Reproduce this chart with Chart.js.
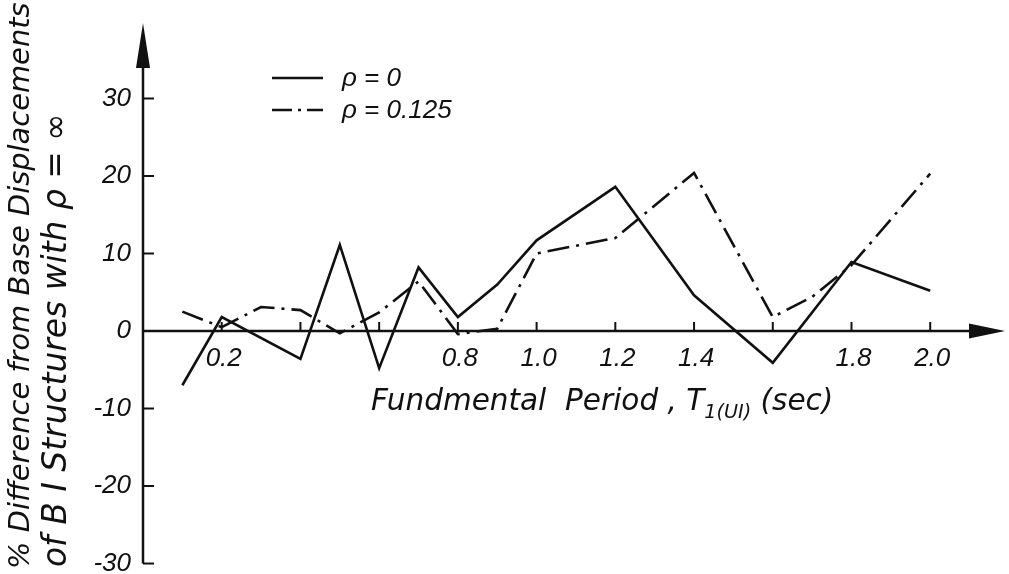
<!DOCTYPE html>
<html>
<head>
<meta charset="utf-8">
<script src="https://cdn.jsdelivr.net/npm/chart.js@4"></script>
<style>
  html, body { margin: 0; padding: 0; background: #fff; }
  #wrap { width: 1009px; height: 574px; }
</style>
</head>
<body>
<div id="wrap"><canvas id="chart" width="1009" height="574"></canvas></div>
<script>
// values (period in sec, % difference)
const periodSolid = [0.1, 0.2, 0.4, 0.5, 0.6, 0.7, 0.8, 0.9, 1.0, 1.2, 1.4, 1.6, 1.8, 2.0];
const diffSolid   = [-7.0, 1.8, -3.6, 11.1, -4.8, 8.2, 1.8, 6.0, 11.7, 18.6, 4.6, -4.1, 8.9, 5.2];

const periodDash = [0.1, 0.2, 0.3, 0.4, 0.5, 0.6, 0.7, 0.8, 0.9, 1.0, 1.2, 1.4, 1.6, 1.7, 1.8, 2.0];
const diffDash   = [2.5, 0.5, 3.1, 2.7, -0.3, 2.4, 6.4, -0.4, 0.3, 10.0, 12.0, 20.4, 1.8, 4.4, 8.5, 20.3];

const yTicks = [30, 20, 10, 0, -10, -20, -30];
const xTickMarks = [0.2, 0.4, 0.6, 0.8, 1.0, 1.2, 1.4, 1.6, 1.8, 2.0];
const xTickLabels = ['0.2', '0.8', '1.0', '1.2', '1.4', '1.8', '2.0'];
const legendLabels = ['ρ = 0', 'ρ = 0.125'];
const yTitleLines = ['% Difference from Base Displacements', 'of B I Structures with ρ = ∞'];

const FONT = '"Liberation Sans", Arial, sans-serif';
const WIDE = '"DejaVu Sans", sans-serif';
const INK = '#111';
const DASH_DOT = [22, 7, 3, 7];

const fitSize = (ctx, text, target, family) => {
    ctx.font = `italic 100px ${family}`;
    return 100 * target / ctx.measureText(text).width;
};

const paperAxes = {
    id: 'paperAxes',
    beforeDatasetsDraw(chart) {
        const { ctx, chartArea, scales: { x, y } } = chart;
        const x0 = x.getPixelForValue(0);
        const y0 = y.getPixelForValue(0);
        const yBottom = y.getPixelForValue(-30);

        ctx.save();
        ctx.strokeStyle = INK;
        ctx.fillStyle = INK;
        ctx.lineWidth = 2.5;

        // vertical axis + arrow
        ctx.beginPath();
        ctx.moveTo(x0, yBottom);
        ctx.lineTo(x0, chartArea.top + 40);
        ctx.stroke();
        ctx.beginPath();
        ctx.moveTo(x0, chartArea.top);
        ctx.lineTo(x0 - 7, chartArea.top + 45);
        ctx.lineTo(x0 + 7, chartArea.top + 45);
        ctx.closePath();
        ctx.fill();

        // horizontal axis + arrow
        ctx.beginPath();
        ctx.moveTo(x0, y0);
        ctx.lineTo(chartArea.right - 30, y0);
        ctx.stroke();
        ctx.beginPath();
        ctx.moveTo(chartArea.right, y0);
        ctx.lineTo(chartArea.right - 36, y0 - 7.5);
        ctx.lineTo(chartArea.right - 36, y0 + 7.5);
        ctx.closePath();
        ctx.fill();

        // y ticks and labels
        ctx.lineWidth = 2;
        ctx.font = `italic 26px ${FONT}`;
        ctx.textAlign = 'right';
        ctx.textBaseline = 'middle';
        yTicks.forEach(v => {
            const py = y.getPixelForValue(v);
            if (v !== 0) {
                ctx.beginPath();
                ctx.moveTo(x0, py);
                ctx.lineTo(x0 + 11, py);
                ctx.stroke();
            }
            ctx.fillText(String(v), x0 - 12, py);
        });

        // x ticks and labels
        xTickMarks.forEach(v => {
            const px = x.getPixelForValue(v);
            ctx.beginPath();
            ctx.moveTo(px, y0);
            ctx.lineTo(px, y0 - 9);
            ctx.stroke();
        });
        ctx.textAlign = 'center';
        ctx.textBaseline = 'top';
        xTickLabels.forEach(t => {
            ctx.fillText(t, x.getPixelForValue(parseFloat(t)) + 2, y0 + 15);
        });
        ctx.restore();
    },
    afterDraw(chart) {
        const { ctx } = chart;
        ctx.save();
        ctx.strokeStyle = INK;
        ctx.fillStyle = INK;

        // legend
        chart.data.datasets.forEach((ds, i) => {
            const ly = 78 + i * 32;
            ctx.lineWidth = ds.borderWidth;
            ctx.setLineDash(i === 0 ? [] : [20, 6, 3, 6]);
            ctx.beginPath();
            ctx.moveTo(272, ly);
            ctx.lineTo(323, ly);
            ctx.stroke();
            ctx.setLineDash([]);
            ctx.font = `italic 26px ${FONT}`;
            ctx.textAlign = 'left';
            ctx.textBaseline = 'middle';
            ctx.fillText(legendLabels[i], 342, ly + 1);
        });

        // x axis title with subscript, sized to span the same width as the original
        const main = 'Fundmental  Period , T';
        const sub = '1(UI)';
        const tail = ' (sec)';
        ctx.font = `italic 100px ${WIDE}`;
        const wMain = ctx.measureText(main).width + ctx.measureText(tail).width;
        ctx.font = `italic 65px ${WIDE}`;
        const wSub = ctx.measureText(sub).width;
        const size = 100 * 462 / (wMain + wSub);
        ctx.textAlign = 'left';
        ctx.textBaseline = 'alphabetic';
        let tx = 371;
        ctx.font = `italic ${size.toFixed(1)}px ${WIDE}`;
        ctx.fillText(main, tx, 410);
        tx += ctx.measureText(main).width;
        ctx.font = `italic ${(size * 0.65).toFixed(1)}px ${WIDE}`;
        ctx.fillText(sub, tx, 418);
        tx += ctx.measureText(sub).width;
        ctx.font = `italic ${size.toFixed(1)}px ${WIDE}`;
        ctx.fillText(tail, tx, 410);

        // y axis title, two rotated lines
        const lines = [
            { text: yTitleLines[0], base: 29, start: 569, len: 566 },
            { text: yTitleLines[1], base: 66, start: 567, len: 454 }
        ];
        lines.forEach(l => {
            const fs = fitSize(ctx, l.text, l.len, WIDE);
            ctx.save();
            ctx.translate(l.base, l.start);
            ctx.rotate(-Math.PI / 2);
            ctx.font = `italic ${fs.toFixed(1)}px ${WIDE}`;
            ctx.textAlign = 'left';
            ctx.textBaseline = 'alphabetic';
            ctx.fillText(l.text, 0, 0);
            ctx.restore();
        });
        ctx.restore();
    }
};

const toPoints = (xs, ys) => xs.map((p, i) => ({ x: p, y: ys[i] }));

new Chart(document.getElementById('chart'), {
    type: 'line',
    data: {
        datasets: [
            {
                label: legendLabels[0],
                data: toPoints(periodSolid, diffSolid),
                borderColor: INK,
                borderWidth: 2.6,
                pointRadius: 0,
                tension: 0
            },
            {
                label: legendLabels[1],
                data: toPoints(periodDash, diffDash),
                borderColor: INK,
                borderWidth: 2.6,
                borderDash: DASH_DOT,
                pointRadius: 0,
                tension: 0
            }
        ]
    },
    options: {
        responsive: false,
        animation: false,
        devicePixelRatio: 1,
        layout: { padding: { left: 143, right: 4, top: 23, bottom: 9 } },
        plugins: { legend: { display: false }, tooltip: { enabled: false } },
        scales: {
            x: { type: 'linear', min: 0, max: 2.19, display: false },
            y: { min: -30.19, max: 39.74, display: false }
        }
    },
    plugins: [paperAxes]
});
</script>
</body>
</html>
